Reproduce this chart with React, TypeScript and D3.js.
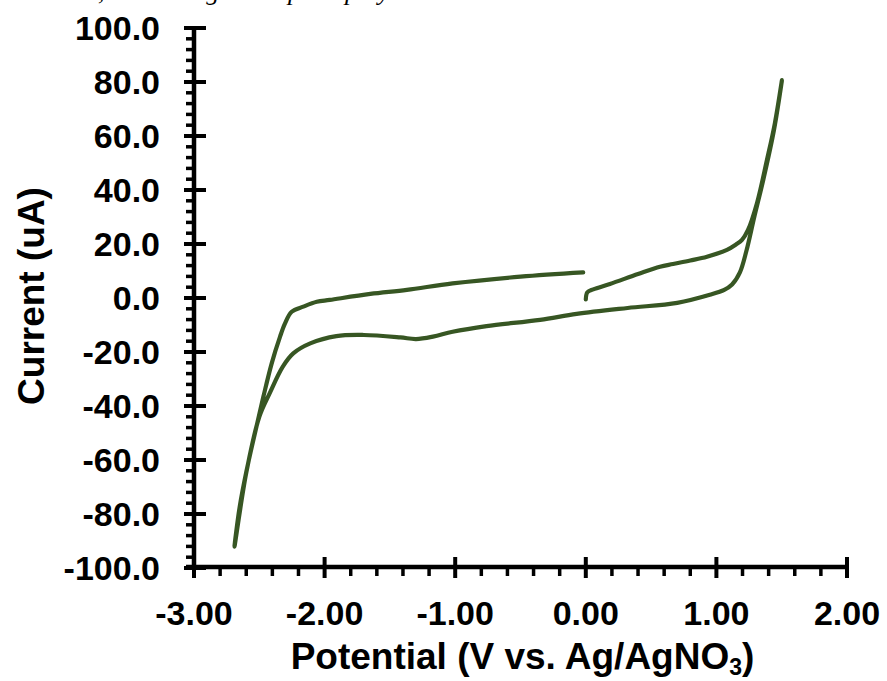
import React from "react";
import * as d3 from "d3";

// Cyclic voltammogram: scan order start 0 V -> +1.5 V -> -2.7 V -> 0 V
const potential: number[] = [
  0.0, 0.012, 0.057, 0.185, 0.4, 0.568, 0.668, 0.8, 0.928, 1.081, 1.15, 1.196, 1.242, 1.311, 1.387, 1.448, 1.502,
  1.44, 1.36, 1.29, 1.23, 1.18, 1.12, 1.06, 0.95, 0.7, 0.32, -0.07, -0.35, -0.76, -1.02, -1.17, -1.3, -1.42, -1.7,
  -1.91, -2.11, -2.24, -2.32, -2.42, -2.5, -2.6, -2.69,
  -2.65, -2.6, -2.533, -2.469, -2.405, -2.341, -2.303, -2.252, -2.163, -2.06, -1.96, -1.65, -1.37, -1.02, -0.5, -0.02,
];
const current: number[] = [
  -0.5, 2.1, 3.2, 5.2, 8.9, 11.6, 12.6, 13.9, 15.3, 17.8, 19.8, 21.5, 25.2, 35.2, 51.1, 64.8, 80.7,
  62, 44, 30, 17.5, 9.5, 5.0, 3.0, 1.2, -1.8, -3.7, -5.9, -8.1, -10.4, -12.5, -14.3, -15.2, -14.6, -13.7,
  -14.1, -16.8, -20.5, -25.4, -35.2, -44.0, -64.8, -92.1,
  -77.3, -64.5, -50, -36.6, -24.2, -14.3, -9.4, -5.1, -3.2, -1.4, -0.7, 1.5, 3.0, 5.4, 7.9, 9.5,
];

const xMajorTicks: number[] = [-3, -2, -1, 0, 1, 2];
const yMajorTicks: number[] = [-100, -80, -60, -40, -20, 0, 20, 40, 60, 80, 100];
const xTitle = "Potential (V vs. Ag/AgNO";
const xTitleSub = "3";
const yTitle = "Current (uA)";
const captionFragment = ", in the single complete polymer.";

const W = 887;
const H = 681;
const FONT = "'Liberation Sans', Arial, sans-serif";
const LINE = "#375623";

export default function App() {
  const x = d3.scaleLinear().domain([-3, 2]).range([194, 847]);
  const y = d3.scaleLinear().domain([-100, 100]).range([568, 28]);

  const pts: [number, number][] = potential.map((p, i) => [p, current[i]]);
  const line = d3
    .line<[number, number]>()
    .x((d) => x(d[0]))
    .y((d) => y(d[1]))
    .curve(d3.curveCatmullRom.alpha(0.5));

  const xMinor = d3.range(-3, 2.0001, 0.2).filter((v) => Math.abs(v - Math.round(v)) > 1e-6);
  const yMinor = d3.range(-100, 100.001, 4).filter((v) => Math.abs(v % 20) > 1e-6);

  const x0 = x(-3);
  const yBase = y(-100);

  return (
    <div style={{ position: "fixed", left: 0, top: 0, width: W, height: H, background: "#fff" }}>
      <svg width={W} height={H} viewBox={`0 0 ${W} ${H}`} style={{ display: "block" }}>
        <rect x={0} y={0} width={W} height={H} fill="#fff" />
        {/* cut-off caption from the page above */}
        <text
          x={98}
          y={0}
          fontFamily="'Liberation Serif', 'Times New Roman', serif"
          fontStyle="italic"
          fontSize={26}
          fill="#000"
        >
          {captionFragment}
        </text>

        {/* curve */}
        <path
          d={line(pts) || ""}
          fill="none"
          stroke={LINE}
          strokeWidth={4.2}
          strokeLinecap="round"
          strokeLinejoin="round"
        />

        {/* y axis */}
        <line x1={x0} x2={x0} y1={y(100) - 2} y2={yBase + 2} stroke="#000" strokeWidth={4.5} />
        {yMinor.map((v) => (
          <line key={"ym" + v} x1={x0 - 8} x2={x0} y1={y(v)} y2={y(v)} stroke="#000" strokeWidth={3.5} />
        ))}
        {yMajorTicks.map((v) => (
          <g key={"yM" + v}>
            <line x1={x0 - 10} x2={x0 + 12} y1={y(v)} y2={y(v)} stroke="#000" strokeWidth={4} />
            <text
              x={160}
              y={y(v)}
              dy="0.36em"
              textAnchor="end"
              fontFamily={FONT}
              fontWeight="bold"
              fontSize={34}
              fill="#000"
            >
              {v.toFixed(1)}
            </text>
          </g>
        ))}

        {/* x axis */}
        <line x1={x0 - 8} x2={x(2) + 2} y1={yBase - 1} y2={yBase - 1} stroke="#000" strokeWidth={4.5} />
        {xMinor.map((v) => (
          <line key={"xm" + v} x1={x(v)} x2={x(v)} y1={yBase} y2={yBase + 8} stroke="#000" strokeWidth={3.5} />
        ))}
        {xMajorTicks.map((v) => (
          <g key={"xM" + v}>
            <line x1={x(v)} x2={x(v)} y1={yBase - 11} y2={yBase + 10} stroke="#000" strokeWidth={4} />
            <text
              x={x(v)}
              y={625}
              textAnchor="middle"
              fontFamily={FONT}
              fontWeight="bold"
              fontSize={34}
              fill="#000"
            >
              {v.toFixed(2)}
            </text>
          </g>
        ))}

        {/* axis titles */}
        <text
          x={(x(-3) + x(2)) / 2 + 2}
          y={669}
          textAnchor="middle"
          fontFamily={FONT}
          fontWeight="bold"
          fontSize={37}
          fill="#000"
        >
          {xTitle}
          <tspan fontSize={23} dy={6}>
            {xTitleSub}
          </tspan>
          <tspan dy={-6}>)</tspan>
        </text>
        <text
          transform={`translate(44, 296) rotate(-90)`}
          textAnchor="middle"
          fontFamily={FONT}
          fontWeight="bold"
          fontSize={37}
          fill="#000"
        >
          {yTitle}
        </text>
      </svg>
    </div>
  );
}
